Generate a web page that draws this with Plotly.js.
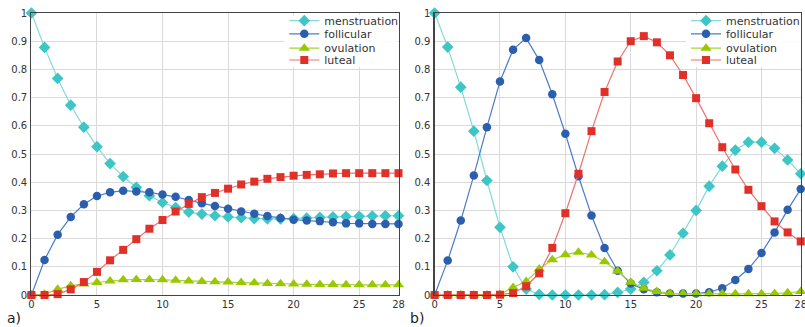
<!DOCTYPE html>
<html>
<head>
<meta charset="utf-8">
<script src="https://cdn.plot.ly/plotly-3.0.1.min.js"></script>
<style>
  html, body { margin: 0; padding: 0; background: #fff; }
  #chart { width: 805px; height: 327px; }
</style>
</head>
<body>
<div id="chart"></div>
<script>
// ---- data ----
const days = [0,1,2,3,4,5,6,7,8,9,10,11,12,13,14,15,16,17,18,19,20,21,22,23,24,25,26,27,28];
const seriesNames = ['menstruation', 'follicular', 'ovulation', 'luteal'];

const leftMenstruation = [1.0, 0.878, 0.768, 0.673, 0.595, 0.526, 0.466, 0.42, 0.382, 0.352, 0.328, 0.31, 0.294, 0.287, 0.281, 0.277, 0.274, 0.271, 0.27, 0.27, 0.271, 0.273, 0.275, 0.277, 0.278, 0.279, 0.28, 0.281, 0.281];
const leftFollicular   = [0, 0.124, 0.214, 0.277, 0.322, 0.351, 0.364, 0.37, 0.367, 0.364, 0.356, 0.348, 0.337, 0.325, 0.316, 0.306, 0.296, 0.288, 0.28, 0.273, 0.267, 0.264, 0.262, 0.258, 0.254, 0.254, 0.252, 0.252, 0.252];
const leftOvulation    = [0, 0.003, 0.02, 0.033, 0.039, 0.044, 0.05, 0.054, 0.055, 0.055, 0.054, 0.052, 0.05, 0.048, 0.047, 0.046, 0.044, 0.043, 0.041, 0.04, 0.039, 0.038, 0.037, 0.037, 0.036, 0.036, 0.036, 0.036, 0.036];
const leftLuteal       = [0, 0, 0.003, 0.02, 0.046, 0.082, 0.123, 0.16, 0.198, 0.235, 0.266, 0.296, 0.323, 0.347, 0.362, 0.377, 0.392, 0.402, 0.412, 0.418, 0.423, 0.426, 0.428, 0.431, 0.432, 0.432, 0.432, 0.432, 0.432];

const rightMenstruation = [1.0, 0.879, 0.737, 0.581, 0.406, 0.24, 0.1, 0.021, 0.002, 0, 0, 0, 0, 0.001, 0.009, 0.021, 0.045, 0.086, 0.142, 0.219, 0.3, 0.386, 0.457, 0.514, 0.542, 0.542, 0.52, 0.479, 0.43];
const rightFollicular   = [0, 0.122, 0.264, 0.424, 0.595, 0.757, 0.87, 0.911, 0.833, 0.712, 0.572, 0.421, 0.282, 0.167, 0.086, 0.041, 0.02, 0.01, 0.005, 0.005, 0.005, 0.01, 0.024, 0.053, 0.092, 0.149, 0.222, 0.302, 0.376];
const rightOvulation    = [0, 0, 0, 0, 0, 0.002, 0.027, 0.048, 0.092, 0.125, 0.143, 0.152, 0.142, 0.118, 0.084, 0.045, 0.024, 0.012, 0.006, 0.005, 0.004, 0.004, 0.004, 0.004, 0.004, 0.004, 0.005, 0.008, 0.012];
const rightLuteal       = [0, 0, 0, 0, 0, 0.001, 0.007, 0.031, 0.077, 0.167, 0.29, 0.43, 0.581, 0.72, 0.828, 0.9, 0.918, 0.896, 0.85, 0.78, 0.698, 0.609, 0.524, 0.445, 0.373, 0.315, 0.261, 0.222, 0.19];

const xTickVals = [0, 5, 10, 15, 20, 25, 28];
const xTickText = ['0', '5', '10', '15', '20', '25', '28'];
const yTickVals = [0, 0.1, 0.2, 0.3, 0.4, 0.5, 0.6, 0.7, 0.8, 0.9, 1];
const yTickText = ['0', '0.1', '0.2', '0.3', '0.4', '0.5', '0.6', '0.7', '0.8', '0.9', '1'];
const panelLabels = ['a)', 'b)'];

// ---- styles ----
const styles = [
  {symbol: 'diamond',     size: 9,   mcolor: '#3ec6c6', lcolor: '#82dada'},
  {symbol: 'circle',      size: 8.5, mcolor: '#2b5fad', lcolor: '#4a7cc8'},
  {symbol: 'triangle-up', size: 10,  mcolor: '#99c800', lcolor: '#a8d23a'},
  {symbol: 'square',      size: 8,   mcolor: '#e0302a', lcolor: '#f07070'}
];

const leftSeries = [leftMenstruation, leftFollicular, leftOvulation, leftLuteal];
const rightSeries = [rightMenstruation, rightFollicular, rightOvulation, rightLuteal];

const traces = [];
function addPanel(series, xa, ya, legendId) {
  series.forEach((vals, i) => {
    const s = styles[i];
    traces.push({
      type: 'scatter', mode: 'lines+markers',
      x: days, y: vals, name: seriesNames[i],
      xaxis: xa, yaxis: ya, legend: legendId,
      line: {color: s.lcolor, width: 1.2},
      marker: {symbol: s.symbol, size: s.size, color: s.mcolor, line: {width: 0}},
      cliponaxis: false
    });
  });
}
addPanel(leftSeries, 'x', 'y', 'legend');
addPanel(rightSeries, 'x2', 'y2', 'legend2');

const W = 805, H = 327;
const yDom = [(H - 295) / H, (H - 13) / H];
const leftDom = [31.5 / W, 399.5 / W];
const rightDom = [435.7 / W, 802.7 / W];

function xAxis(domain, anchor) {
  return {
    domain: domain, anchor: anchor, range: [0, 28],
    tickmode: 'array', tickvals: xTickVals, ticktext: xTickText,
    showgrid: true, gridcolor: '#dadada', gridwidth: 1,
    zeroline: false, showline: true, linecolor: '#444', linewidth: 1.2, mirror: true,
    ticks: '', ticklabeloverflow: 'allow',
    tickfont: {family: 'DejaVu Sans', size: 10, color: '#333'}
  };
}
function yAxis(anchor) {
  return {
    domain: yDom, anchor: anchor, range: [0, 1],
    tickmode: 'array', tickvals: yTickVals, ticktext: yTickText,
    showgrid: true, gridcolor: '#dadada', gridwidth: 1,
    zeroline: false, showline: true, linecolor: '#444', linewidth: 1.2, mirror: true,
    ticks: '', ticklabelstandoff: 1, tickfont: {family: 'DejaVu Sans', size: 10, color: '#333'}
  };
}

const legendBase = {
  xanchor: 'left', yanchor: 'top',
  bgcolor: 'rgba(255,255,255,0.9)', borderwidth: 0,
  font: {family: 'DejaVu Sans', size: 11, color: '#333'},
  itemwidth: 30, tracegroupgap: 0
};

const legendLeftPx = [285, 688];

const layout = {
  width: W, height: H,
  margin: {l: 0, r: 0, t: 0, b: 0},
  paper_bgcolor: '#fff', plot_bgcolor: '#fff',
  showlegend: true,
  xaxis: xAxis(leftDom, 'y'),
  yaxis: yAxis('x'),
  xaxis2: xAxis(rightDom, 'y2'),
  yaxis2: yAxis('x2'),
  legend: Object.assign({}, legendBase, {x: legendLeftPx[0] / W, y: (H - 14.5) / H}),
  legend2: Object.assign({}, legendBase, {x: legendLeftPx[1] / W, y: (H - 14.5) / H}),
  annotations: [
    {text: panelLabels[0], xref: 'paper', yref: 'paper', x: 6 / W, y: (H - 318) / H,
     xanchor: 'left', yanchor: 'middle', showarrow: false, borderpad: 0,
     font: {family: 'DejaVu Sans', size: 14, color: '#222'}},
    {text: panelLabels[1], xref: 'paper', yref: 'paper', x: 410 / W, y: (H - 318) / H,
     xanchor: 'left', yanchor: 'middle', showarrow: false, borderpad: 0,
     font: {family: 'DejaVu Sans', size: 14, color: '#222'}}
  ]
};

Plotly.newPlot('chart', traces, layout, {displayModeBar: false, staticPlot: true}).then(gd => {
  // compact legend rows to the reference spacing (row centres at ~20.7 + i*13.1 px)
  const firstRow = 20.7, gap = 13.1, legendBottom = 67;
  const legends = gd.querySelectorAll('g.legend, g.legend2');
  legends.forEach((lg, li) => {
    const items = Array.from(lg.querySelectorAll('g.traces'));
    items.forEach((it, i) => {
      const m = /translate\(\s*([-\d.e]+)[ ,]+([-\d.e]+)\s*\)/.exec(it.getAttribute('transform') || '');
      const tx = m ? parseFloat(m[1]) : 0, ty = m ? parseFloat(m[2]) : 0;
      const pts = it.querySelector('g.legendpoints') || it;
      const r = pts.getBoundingClientRect();
      const cur = r.top + r.height / 2;
      const target = firstRow + i * gap;
      it.setAttribute('transform', 'translate(' + tx + ',' + (ty + target - cur) + ')');
    });
    const bg = lg.querySelector('rect.bg');
    if (bg) {
      const rr = bg.getBoundingClientRect();
      const plotRight = (li === 0 ? leftDom[1] : rightDom[1]) * W;
      bg.setAttribute('height', Math.max(10, legendBottom - rr.top));
      bg.setAttribute('width', Math.max(10, plotRight - rr.left - 1.5));
    }
  });
});
</script>
</body>
</html>
